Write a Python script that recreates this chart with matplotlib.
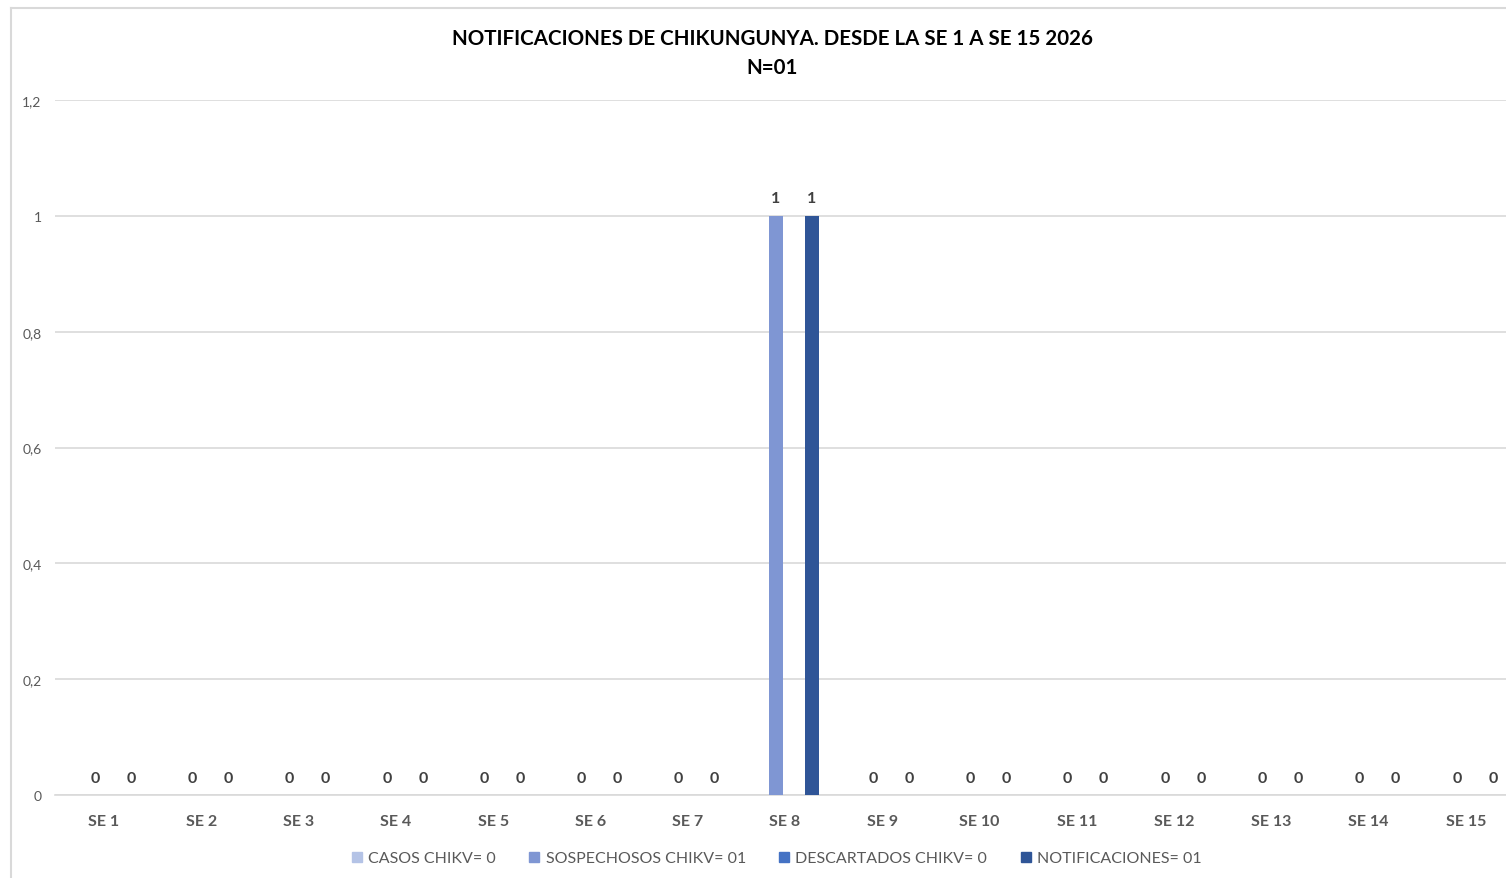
"""Chikungunya notifications by epidemiological week (SE 1 to SE 15, 2026)."""
import matplotlib
matplotlib.use("Agg")
import matplotlib.pyplot as plt
from matplotlib.lines import Line2D
import numpy as np

plt.rcParams["font.family"] = ["Lato", "DejaVu Sans"]

weeks = [f"SE {i}" for i in range(1, 16)]
series_names = ["CASOS CHIKV= 0", "SOSPECHOSOS CHIKV= 01",
                "DESCARTADOS CHIKV= 0", "NOTIFICACIONES= 01"]
# series 1 and 3 carry no data in the source chart
casos = [None] * 15
sospechosos = [0, 0, 0, 0, 0, 0, 0, 1, 0, 0, 0, 0, 0, 0, 0]
descartados = [None] * 15
notificaciones = [0, 0, 0, 0, 0, 0, 0, 1, 0, 0, 0, 0, 0, 0, 0]
yticks = [0, 0.2, 0.4, 0.6, 0.8, 1.0, 1.2]

colors = ["#B4C3E6", "#7F96D3", "#4472C4", "#2F5597"]
all_series = [casos, sospechosos, descartados, notificaciones]

fig = plt.figure(figsize=(15.06, 8.79), dpi=100)
ax = fig.add_axes([55.4 / 1506, 83 / 879, 1459 / 1506, 695 / 879])

x = np.arange(len(weeks))
step = 0.185
width = 0.144
for i, vals in enumerate(all_series):
    off = (i - 1.5) * step
    if all(v is None for v in vals):
        continue
    v = np.array(vals, dtype=float)
    ax.bar(x + off, v, width, color=colors[i], zorder=3)
    for xi, val in zip(x, v):
        ax.text(xi + off, val + 0.018, f"{val:g}", ha="center", va="bottom",
                fontsize=11.5, fontweight="bold", color="#404040")

ax.set_xlim(-0.5, len(weeks) - 0.5)
ax.set_ylim(0, 1.2)
ax.set_yticks(yticks)
ax.set_yticklabels([f"{t:g}".replace(".", ",") for t in yticks],
                   fontsize=10, color="#595959")
ax.set_xticks(x)
ax.set_xticklabels(weeks, fontsize=11.5, fontweight="bold", color="#595959")
ax.tick_params(length=0, axis="both")
ax.tick_params(axis="x", pad=14)
ax.tick_params(axis="y", pad=10)
ax.grid(axis="y", color="#D9D9D9", linewidth=1.2, zorder=0)
for s in ["top", "right", "left"]:
    ax.spines[s].set_visible(False)
ax.spines["bottom"].set_color("#D9D9D9")
ax.spines["bottom"].set_linewidth(1.2)

fig.text(772 / 1506, 1 - 39 / 879, "NOTIFICACIONES DE CHIKUNGUNYA. DESDE LA SE 1 A SE 15 2026",
         ha="center", va="center", fontsize=14.8, fontweight="bold", color="black")
fig.text(772 / 1506, 1 - 68 / 879, "N=01", ha="center", va="center",
         fontsize=14.8, fontweight="bold", color="black")

handles = [Line2D([], [], marker="s", linestyle="none", markersize=7,
                  color=c) for c in colors]
fig.legend(handles, series_names, loc="center", bbox_to_anchor=(776 / 1506, 1 - 859 / 879),
           ncol=4, frameon=False, fontsize=11.5, labelcolor="#595959",
           handlelength=0.8, handletextpad=0.3, columnspacing=2.0)

# chart border
fig.add_artist(Line2D([10.5 / 1506, 10.5 / 1506], [0, 1 - 8.5 / 879],
                      color="#D9D9D9", linewidth=1.5, transform=fig.transFigure))
fig.add_artist(Line2D([10.5 / 1506, 1], [1 - 8.5 / 879, 1 - 8.5 / 879],
                      color="#D9D9D9", linewidth=1.5, transform=fig.transFigure))

fig.savefig("out.png", dpi=100)
